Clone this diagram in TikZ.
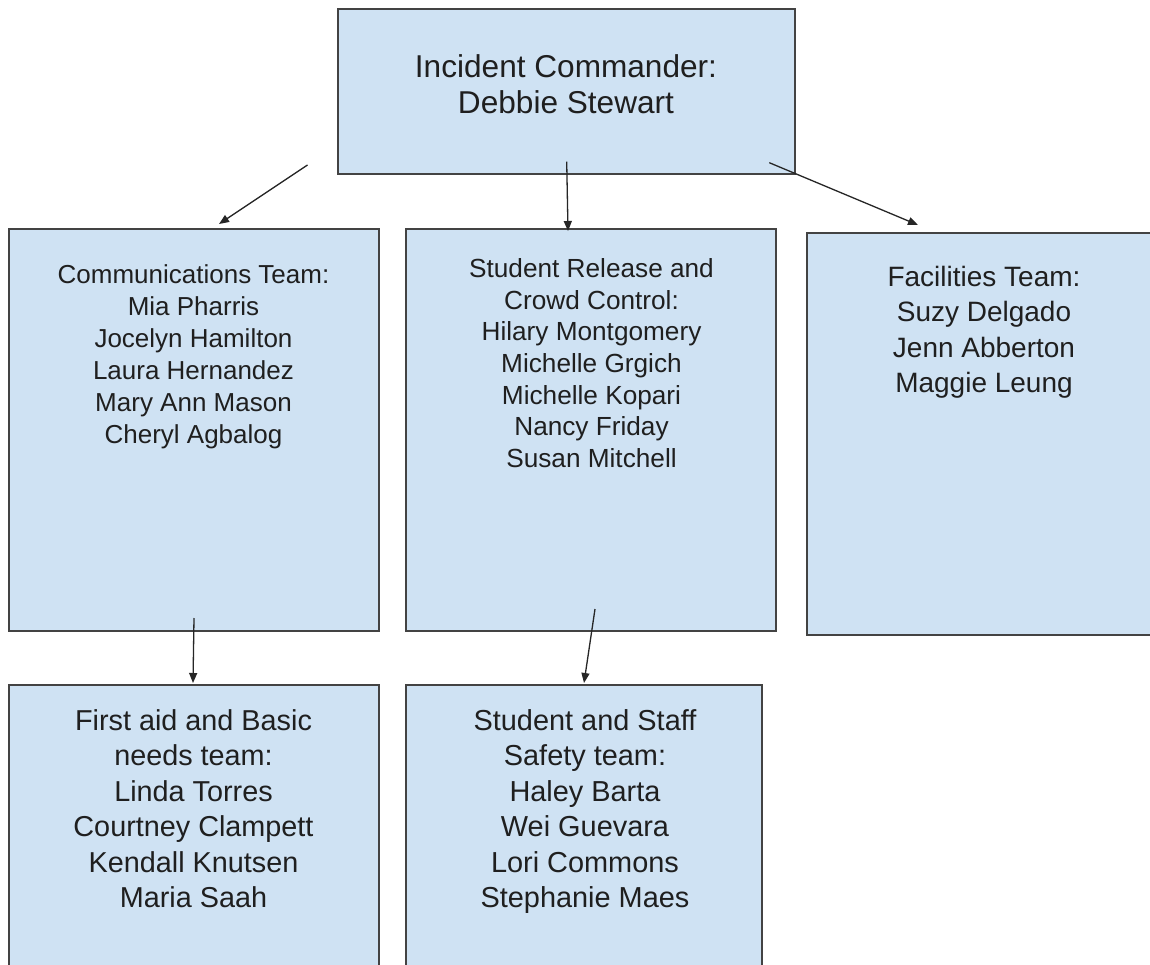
\documentclass[tikz,border=0pt]{standalone}
\usepackage{fontspec}
\setmainfont{Liberation Sans}
\usetikzlibrary{arrows.meta,calc}
\definecolor{boxfill}{HTML}{CFE2F3}
\definecolor{boxline}{HTML}{434343}
\definecolor{txt}{HTML}{1F1F1F}
\tikzset{
  box/.style={draw=boxline, fill=boxfill, line width=1.3pt, inner sep=0pt, outer sep=0pt, anchor=north west},
  lbl/.style={text=txt, align=center, inner sep=0pt, anchor=north},
  arr/.style={draw=black!85, line width=1.3pt, -{Triangle[length=10pt,width=8pt]}}
}
\begin{document}
\begin{tikzpicture}[x=1pt,y=-1pt]
\useasboundingbox (0,0) rectangle (1150,965);
\clip (0,0) rectangle (1150,965);
\fill[white] (0,0) rectangle (1150,965);
% boxes
\node[box, minimum width=457pt, minimum height=165pt] (ic) at (338,9) {};
\node[box, minimum width=370pt, minimum height=402pt] (comm) at (9,229) {};
\node[box, minimum width=370pt, minimum height=402pt] (rel) at (406,229) {};
\node[box, minimum width=360pt, minimum height=402pt] (fac) at (807,233) {};
\node[box, minimum width=370pt, minimum height=300pt] (aid) at (9,685) {};
\node[box, minimum width=356pt, minimum height=300pt] (saf) at (406,685) {};
% labels
\node[lbl, font=\fontsize{31.6}{36}\selectfont] (icT) at (566,54.5) {Incident Commander:\\Debbie Stewart};
\node[lbl, font=\fontsize{26}{32}\selectfont] (commT) at (193.5,264.5) {Communications Team:\\Mia Pharris\\Jocelyn Hamilton\\Laura Hernandez\\Mary Ann Mason\\Cheryl Agbalog};
\node[lbl, font=\fontsize{26.2}{31.7}\selectfont] (relT) at (591.5,258.2) {Student Release and\\Crowd Control:\\Hilary Montgomery\\Michelle Grgich\\Michelle Kopari\\Nancy Friday\\Susan Mitchell};
\node[lbl, font=\fontsize{28}{35.5}\selectfont] (facT) at (984,266) {Facilities Team:\\Suzy Delgado\\Jenn Abberton\\Maggie Leung};
\node[lbl, font=\fontsize{28.8}{35.5}\selectfont] (aidT) at (193.5,709.3) {First aid and Basic\\needs team:\\Linda Torres\\Courtney Clampett\\Kendall Knutsen\\Maria Saah};
\node[lbl, font=\fontsize{28.9}{35.5}\selectfont] (safT) at (585,709.2) {Student and Staff\\Safety team:\\Haley Barta\\Wei Guevara\\Lori Commons\\Stephanie Maes};
% connectors
\coordinate (s1) at (307.5,165);
\coordinate (s2) at (566.7,161.7);
\coordinate (s3) at (769.3,162.7);
\coordinate (s4) at (194,618);
\coordinate (s5) at (595,609);
\coordinate (e1) at ($(comm.north west)+(210,-5)$);
\coordinate (e2) at ($(rel.north west)+(162,2)$);
\coordinate (e3) at ($(fac.north west)+(111,-8)$);
\coordinate (e4) at ($(aid.north west)+(184,-2)$);
\coordinate (e5) at ($(saf.north west)+(178,-2)$);
\draw[arr] (s1) -- (e1);
\draw[arr] (s2) -- (e2);
\draw[arr] (s3) -- (e3);
\draw[arr] (s4) -- (e4);
\draw[arr] (s5) -- (e5);
\end{tikzpicture}
\end{document}
